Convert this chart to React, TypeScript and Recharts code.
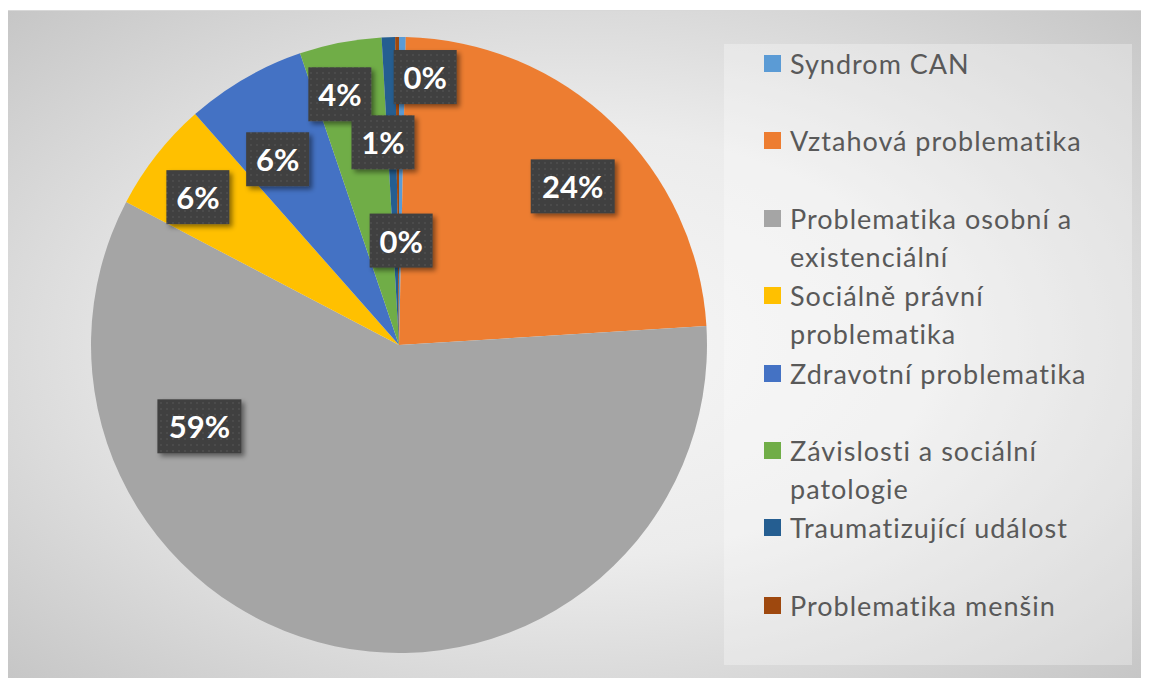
import React from 'react';
import { PieChart, Pie, Cell, Legend } from 'recharts';

const categories = [
  'Syndrom CAN',
  'Vztahová problematika',
  'Problematika osobní a existenciální',
  'Sociálně právní problematika',
  'Zdravotní problematika',
  'Závislosti a sociální patologie',
  'Traumatizující událost',
  'Problematika menšin',
];
const shares = [0.35, 23.65, 58.6, 5.8, 6.3, 4.3, 0.7, 0.2];
const colors = ['#5B9BD5', '#ED7D31', '#A5A5A5', '#FFC000', '#4472C4', '#70AD47', '#255E91', '#9E480E'];

// label placement (offset from pie centre, in units of the radius)
const labelOffsets: [number, number][] = [
  [0.085, -0.87],
  [0.564, -0.515],
  [-0.648, 0.264],
  [-0.653, -0.48],
  [-0.394, -0.603],
  [-0.192, -0.814],
  [-0.052, -0.658],
  [0.007, -0.339],
];

const data = categories.map((name, i) => ({ name, value: shares[i] }));

const FONT = 'Lato, "Open Sans", sans-serif';

const renderLabel = (props: any) => {
  const { cx, cy, outerRadius, index, percent } = props;
  const [dx, dy] = labelOffsets[index];
  const x = cx + dx * outerRadius;
  const y = cy + dy * outerRadius;
  const txt = `${Math.round(percent * 100)}%`;
  const w = txt.length === 2 ? 63 : 84;
  const h = 54;
  return (
    <g key={`lbl-${index}`}>
      {index === 0 && (
        <defs>
          <pattern id="dots" width="6" height="6" patternUnits="userSpaceOnUse">
            <rect width="6" height="6" fill="#3f3f3f" />
            <rect x="2" y="2" width="2" height="2" fill="#4c4c4c" />
          </pattern>
          <filter id="shadow" x="-30%" y="-30%" width="160%" height="160%">
            <feDropShadow dx="3" dy="3" stdDeviation="2.5" floodColor="#000" floodOpacity="0.45" />
          </filter>
        </defs>
      )}
      <rect x={x - w / 2} y={y - h / 2} width={w} height={h} fill="url(#dots)" filter="url(#shadow)" />
      <text
        x={x}
        y={y}
        textAnchor="middle"
        dominantBaseline="central"
        fill="#ffffff"
        fontFamily={FONT}
        fontWeight={700}
        fontSize={31}
      >
        {txt}
      </text>
    </g>
  );
};

const renderLegend = () => {
  return (
    <div style={{ fontFamily: FONT, color: '#595959' }}>
      {categories.map((name, i) => (
        <div
          key={name}
          style={{ height: 77.4, display: 'flex', alignItems: 'flex-start', paddingLeft: 40, boxSizing: 'border-box' }}
        >
          <div
            style={{
              width: 17,
              height: 17,
              background: colors[i],
              flex: '0 0 auto',
              marginTop: 12,
              marginRight: 9,
            }}
          />
          <div style={{ fontSize: 27, letterSpacing: 1.0, lineHeight: '38px', width: 316, paddingTop: 2 }}>{name}</div>
        </div>
      ))}
    </div>
  );
};

export default function App() {
  return (
    <div
      style={{
        marginTop: 2,
        width: 1133,
        height: 668,
        position: 'relative',
        borderTop: '1px solid #d8d8d8',
        background: 'radial-gradient(ellipse at 50% 50%, #f6f6f6 0%, #ececec 45%, #c6c6c6 100%)',
      }}
    >
      <div
        style={{
          position: 'absolute',
          left: 716,
          top: 33,
          width: 408,
          height: 621,
          background: 'rgba(255,255,255,0.3)',
        }}
      />
      <PieChart
        width={1133}
        height={668}
        margin={{ top: 0, right: 0, bottom: 0, left: 0 }}
        style={{ position: 'absolute', left: 0, top: -1 }}
      >
        <Pie
          data={data}
          dataKey="value"
          nameKey="name"
          cx={391}
          cy={335}
          outerRadius={308}
          startAngle={90}
          endAngle={-270}
          stroke="none"
          isAnimationActive={false}
          label={renderLabel}
          labelLine={false}
        >
          {data.map((d, i) => (
            <Cell key={d.name} fill={colors[i]} />
          ))}
        </Pie>
        <Legend
          layout="vertical"
          align="right"
          verticalAlign="top"
          content={renderLegend}
          wrapperStyle={{ position: 'absolute', left: 716, top: 33, width: 408, height: 621 }}
        />
      </PieChart>
    </div>
  );
}
